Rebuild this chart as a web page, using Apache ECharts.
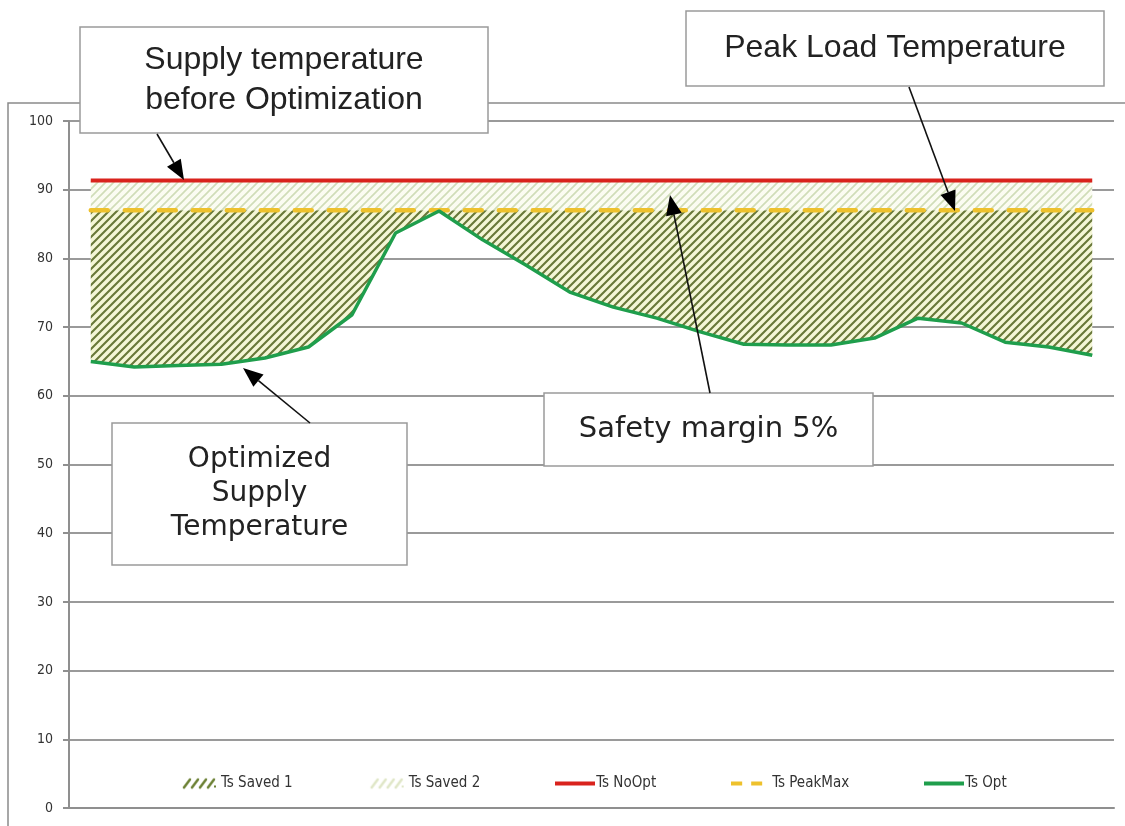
<!DOCTYPE html>
<html>
<head>
<meta charset="utf-8">
<script src="https://cdn.jsdelivr.net/npm/echarts@6/dist/echarts.min.js"></script>
<style>
  html, body { margin: 0; padding: 0; background: #fff; }
  #chart { width: 1125px; height: 826px; }
</style>
</head>
<body>
<div id="chart"></div>
<script>
// hours of the day (not labelled on the axis)
const hours = ["1", "2", "3", "4", "5", "6", "7", "8", "9", "10", "11", "12",
  "13", "14", "15", "16", "17", "18", "19", "20", "21", "22", "23", "24"];
const tsOpt = [65.0, 64.2, 64.4, 64.6, 65.5, 67.1, 71.8, 83.7, 86.9, 82.7, 79.0, 75.1,
  72.9, 71.3, 69.3, 67.5, 67.4, 67.4, 68.4, 71.3, 70.6, 67.8, 67.1, 65.9];
const tsPeakMax = [87, 87, 87, 87, 87, 87, 87, 87, 87, 87, 87, 87,
  87, 87, 87, 87, 87, 87, 87, 87, 87, 87, 87, 87];
const tsNoOpt = [91.35, 91.35, 91.35, 91.35, 91.35, 91.35, 91.35, 91.35, 91.35, 91.35, 91.35, 91.35,
  91.35, 91.35, 91.35, 91.35, 91.35, 91.35, 91.35, 91.35, 91.35, 91.35, 91.35, 91.35];
const yTicks = [0, 10, 20, 30, 40, 50, 60, 70, 80, 90, 100];

// stacked bands between the lines
const saved1 = tsPeakMax.map((v, i) => +(v - tsOpt[i]).toFixed(2));
const saved2 = tsNoOpt.map((v, i) => +(v - tsPeakMax[i]).toFixed(2));

function hatch(bg, fg, size, lw) {
  const c = document.createElement("canvas");
  c.width = c.height = size;
  const g = c.getContext("2d");
  g.fillStyle = bg;
  g.fillRect(0, 0, size, size);
  g.strokeStyle = fg;
  g.lineWidth = lw;
  g.beginPath();
  g.moveTo(-1, size + 1); g.lineTo(size + 1, -1);
  g.moveTo(-1, 1); g.lineTo(1, -1);
  g.moveTo(size - 1, size + 1); g.lineTo(size + 1, size - 1);
  g.stroke();
  return c;
}

function icon(draw, w, h) {
  const c = document.createElement("canvas");
  c.width = w; c.height = h;
  draw(c.getContext("2d"));
  return "image://" + c.toDataURL();
}

function slashIcon(color) {
  return icon(g => {
    g.strokeStyle = color;
    g.lineWidth = 2.5;
    g.lineCap = "round";
    for (let k = 0; k < 4; k++) {
      g.beginPath();
      g.moveTo(4 + k * 8, 11);
      g.lineTo(10 + k * 8, 3);
      g.stroke();
    }
    g.fillStyle = color;
    g.fillRect(34, 9, 2, 2);
  }, 40, 14);
}

function lineIcon(color, dash) {
  return icon(g => {
    g.strokeStyle = color;
    g.lineWidth = 4;
    if (dash) g.setLineDash(dash);
    g.beginPath();
    g.moveTo(0, 7);
    g.lineTo(40, 7);
    g.stroke();
  }, 40, 14);
}

const darkHatch = hatch("#f4f6d6", "#687838", 8, 2.1);
const lightHatch = hatch("#fbfcf2", "#d0ddb8", 8, 1.7);

function arrow(x1, y1, x2, y2) {
  const L = 20, W = 8;
  const dx = x2 - x1, dy = y2 - y1, len = Math.hypot(dx, dy);
  const ux = dx / len, uy = dy / len;
  const bx = x2 - ux * L, by = y2 - uy * L;
  const px = -uy, py = ux;
  return [
    { type: "line", z: 120, shape: { x1: x1, y1: y1, x2: bx, y2: by }, style: { stroke: "#111", lineWidth: 1.6 } },
    { type: "polygon", z: 120, shape: { points: [[x2, y2], [bx + px * W, by + py * W], [bx - px * W, by - py * W]] }, style: { fill: "#000" } }
  ];
}

function box(x, y, w, h, lines, font, size, lineH) {
  const els = [{
    type: "rect", z: 110,
    shape: { x: x, y: y, width: w, height: h },
    style: { fill: "#fff", stroke: "#9a9a9a", lineWidth: 1.5 }
  }];
  const top = y + h / 2 - (lines.length - 1) * lineH / 2;
  lines.forEach((t, i) => {
    els.push({
      type: "text", z: 111,
      x: x + w / 2, y: top + i * lineH,
      style: { text: t, fill: "#222", font: size + "px " + font, align: "center", verticalAlign: "middle" }
    });
  });
  return els;
}

const chart = echarts.init(document.getElementById("chart"));

const narrow = "'Liberation Sans Narrow', 'DejaVu Sans Condensed', sans-serif";

chart.setOption({
  backgroundColor: "#fff",
  animation: false,
  grid: { left: 69, right: 11, top: 121, bottom: 18 },
  legend: {
    bottom: 30,
    left: 174,
    itemWidth: 42,
    itemHeight: 14,
    itemGap: 74,
    textStyle: { fontFamily: narrow, fontSize: 15, color: "#333", padding: [0, 0, 0, -5] },
    data: [
      { name: "Ts Saved 1", icon: slashIcon("#6d8236") },
      { name: "Ts Saved 2", icon: slashIcon("#dfe6c6") },
      { name: "Ts NoOpt", icon: lineIcon("#d9231d") },
      { name: "Ts PeakMax", icon: lineIcon("#eec12c", [11, 9]) },
      { name: "Ts Opt", icon: lineIcon("#1f9e4c") }
    ]
  },
  xAxis: {
    type: "category",
    data: hours,
    boundaryGap: true,
    axisLine: { lineStyle: { color: "#8f8f8f", width: 2 } },
    axisTick: { show: false },
    axisLabel: { show: false },
    splitLine: { show: false }
  },
  yAxis: {
    type: "value",
    min: yTicks[0],
    max: yTicks[yTicks.length - 1],
    interval: 10,
    axisLine: { show: true, lineStyle: { color: "#8f8f8f", width: 2 } },
    axisTick: { show: true, length: 6, lineStyle: { color: "#8f8f8f", width: 2 } },
    axisLabel: { margin: 16, fontFamily: "'DejaVu Sans Condensed', sans-serif", fontSize: 14, color: "#333" },
    splitLine: { lineStyle: { color: "#9a9a9a", width: 2 } }
  },
  series: [
    {
      name: "base", type: "line", stack: "band", data: tsOpt,
      symbol: "none", silent: true, lineStyle: { width: 0, opacity: 0 }
    },
    {
      name: "Ts Saved 1", type: "line", stack: "band", data: saved1,
      symbol: "none", lineStyle: { width: 0, opacity: 0 },
      areaStyle: { color: { image: darkHatch, repeat: "repeat" }, opacity: 1 }
    },
    {
      name: "Ts Saved 2", type: "line", stack: "band", data: saved2,
      symbol: "none", lineStyle: { width: 0, opacity: 0 },
      areaStyle: { color: { image: lightHatch, repeat: "repeat" }, opacity: 1 }
    },
    {
      name: "Ts NoOpt", type: "line", data: tsNoOpt, symbol: "none",
      lineStyle: { color: "#d9231d", width: 4 }, itemStyle: { color: "#d9231d" }
    },
    {
      name: "Ts PeakMax", type: "line", data: tsPeakMax, symbol: "none",
      lineStyle: { color: "#eec12c", width: 4.5, type: [17, 17], cap: "round" }, itemStyle: { color: "#eec12c" }
    },
    {
      name: "Ts Opt", type: "line", data: tsOpt, symbol: "none",
      lineStyle: { color: "#1f9e4c", width: 3.5 }, itemStyle: { color: "#1f9e4c" }
    }
  ],
  graphic: [
    { type: "rect", z: 100, shape: { x: 8, y: 103, width: 1140, height: 760 }, style: { fill: null, stroke: "#8a8a8a", lineWidth: 1.5 } },
    ...box(80, 27, 408, 106, ["Supply temperature", "before Optimization"], "'Liberation Sans', sans-serif", 32, 40),
    ...box(686, 11, 418, 75, ["Peak Load Temperature"], "'Liberation Sans', sans-serif", 32, 40),
    ...box(112, 423, 295, 142, ["Optimized", "Supply", "Temperature"], "'DejaVu Sans', sans-serif", 28, 34),
    ...box(544, 393, 329, 73, ["Safety margin 5%"], "'DejaVu Sans', sans-serif", 29, 34),
    ...arrow(157, 134, 184, 180),
    ...arrow(909, 87, 955, 211),
    ...arrow(710, 393, 670, 195),
    ...arrow(310, 423, 243, 368)
  ]
});
</script>
</body>
</html>
